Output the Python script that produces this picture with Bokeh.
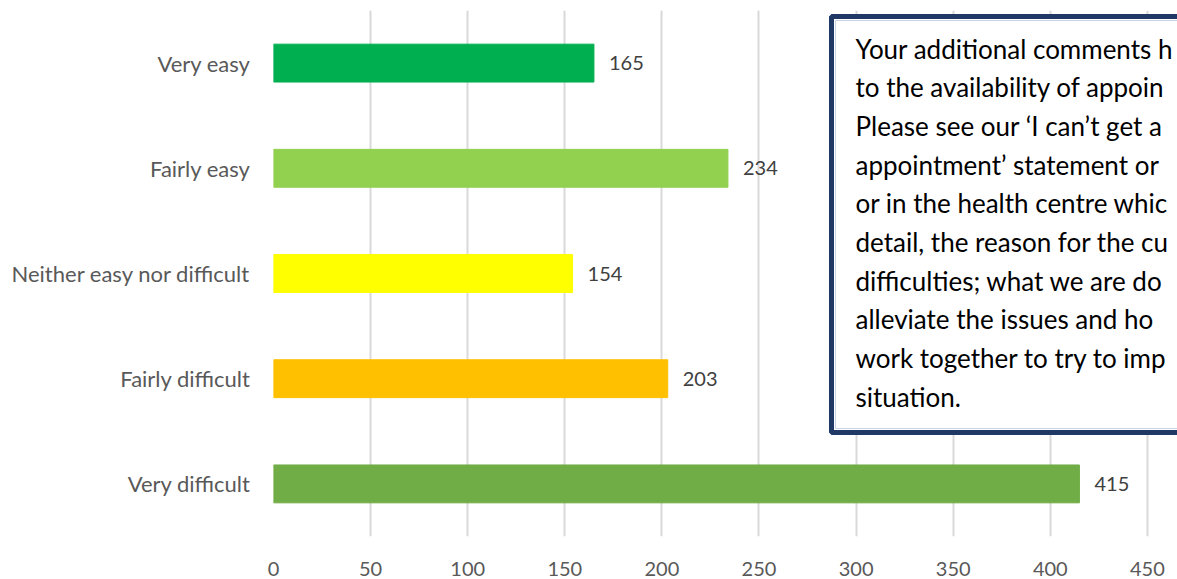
from bokeh.plotting import figure
from bokeh.models import ColumnDataSource, Range1d, FixedTicker, BoxAnnotation, Label
from bokeh.core.properties import value
from bokeh.embed import file_html
from bokeh.resources import INLINE

categories = ["Very easy", "Fairly easy", "Neither easy nor difficult",
              "Fairly difficult", "Very difficult"]
counts = [165, 234, 154, 203, 415]
colors = ["#00B050", "#92D050", "#FFFF00", "#FFC000", "#70AD47"]
x_ticks = [0, 50, 100, 150, 200, 250, 300, 350, 400, 450]
# text box as visible in the reference (cut by the right edge there)
note_lines = [
    "Your additional comments h",
    "to the availability of appoin",
    "Please see our \u2018I can\u2019t get a",
    "appointment\u2019 statement or",
    "or in the health centre whic",
    "detail, the reason for the cu",
    "difficulties; what we are do",
    "alleviate the issues and ho",
    "work together to try to imp",
    "situation.",
]

FONT = "Lato"
n = len(categories)
ypos = [n - 1 - i for i in range(n)]
src = ColumnDataSource(dict(y=ypos, v=counts, c=colors,
                            lab=[str(c) for c in counts]))

p = figure(width=1177, height=579, x_range=Range1d(0, 465.5),
           y_range=Range1d(-0.5, n - 0.5), output_backend="svg",
           toolbar_location=None, min_border_left=273, min_border_right=0,
           min_border_top=10, min_border_bottom=43)
p.outline_line_color = None
p.background_fill_color = "white"
p.border_fill_color = "white"

p.hbar(y="y", right="v", left=0, height=0.36, color="c", source=src)
p.text(x="v", y="y", text="lab", source=src, x_offset=15,
       text_baseline="middle", text_align="left", text_font=value(FONT),
       text_font_size="20px", text_color="#404040")

p.ygrid.visible = False
p.xgrid.grid_line_color = "#D9D9D9"
p.xgrid.grid_line_width = 2
p.xaxis.ticker = FixedTicker(ticks=x_ticks)
p.yaxis.ticker = FixedTicker(ticks=ypos)
p.yaxis.major_label_overrides = {y: c for y, c in zip(ypos, categories)}
for ax in (p.xaxis[0], p.yaxis[0]):
    ax.axis_line_color = None
    ax.major_tick_line_color = None
    ax.minor_tick_line_color = None
    ax.major_tick_out = 0
    ax.major_tick_in = 0
    ax.major_label_text_font = FONT
    ax.major_label_text_color = "#595959"
p.xaxis.major_label_text_font_size = "20px"
p.yaxis.major_label_text_font_size = "22px"
p.yaxis.major_label_standoff = 23
p.xaxis.major_label_standoff = 25

def px_to_x(px):
    return (px - 273) / 1.942

def px_to_y(py):
    return (n - 0.5) - (py - 10) / (526 / n)

box = BoxAnnotation(left=px_to_x(831), right=px_to_x(1400),
                    top=px_to_y(16), bottom=px_to_y(432),
                    fill_color="white", fill_alpha=1.0,
                    line_color="#203864", line_alpha=1.0, line_width=5)
p.add_layout(box)
inner = BoxAnnotation(left=px_to_x(835), right=px_to_x(1400),
                      top=px_to_y(20), bottom=px_to_y(428),
                      fill_alpha=0.0, line_color="#C9D3E6",
                      line_alpha=1.0, line_width=1)
p.add_layout(inner)

for i, line in enumerate(note_lines):
    p.add_layout(Label(x=px_to_x(855), y=px_to_y(48 + i * 38.7), text=line,
                       text_font=FONT, text_font_size="26px",
                       text_color="#000000", text_baseline="middle",
                       text_align="left"))

open("out.html", "w").write(file_html(p, INLINE))
